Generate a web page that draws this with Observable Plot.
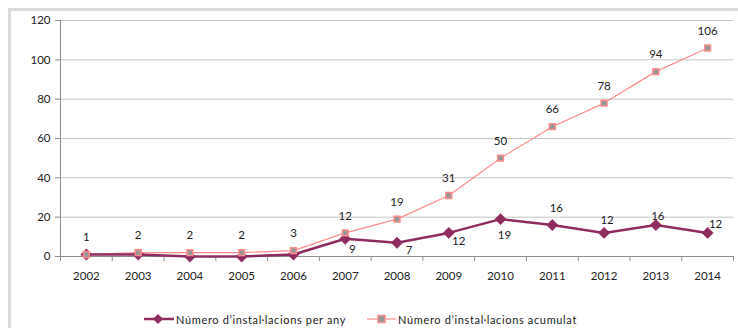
<!DOCTYPE html>
<html>
<head>
<meta charset="utf-8">
<script src="https://cdn.jsdelivr.net/npm/d3@7"></script>
<script src="https://cdn.jsdelivr.net/npm/@observablehq/plot@0.6"></script>
<style>
  html, body { margin: 0; padding: 0; background: #fff; }
  body { width: 738px; height: 328px; position: relative; overflow: hidden; font-family: Lato, "Open Sans", sans-serif; }
  #frame { position: absolute; left: 8px; top: 8px; width: 780px; height: 360px; border: 3px solid #dadada; box-sizing: border-box; }
  #chart { position: absolute; left: 0; top: 0; }
  #legend { position: absolute; top: 311px; left: 0; width: 738px; height: 16px; font-size: 11px; color: #222; letter-spacing: 0.65px; }
  .item { position: absolute; top: 0; display: flex; align-items: center; height: 16px; white-space: nowrap; }
  .item svg { margin-right: 2px; }
</style>
</head>
<body>
<div id="frame"></div>
<div id="chart"></div>
<div id="legend">
  <div class="item" style="left:144px">
    <svg width="30" height="16"><line x1="0" y1="8" x2="30" y2="8" stroke="#8e2c60" stroke-width="2.5"/><path d="M14,3 L19,8 L14,13 L9,8 Z" fill="#8e2c60"/></svg>
    <span>Número d’instal·lacions per any</span>
  </div>
  <div class="item" style="left:367px">
    <svg width="29" height="16"><line x1="0" y1="8" x2="29" y2="8" stroke="#ff8c8c" stroke-width="1.2"/><rect x="11" y="4.5" width="7" height="7" fill="#969696" stroke="#ff8c8c" stroke-width="1.5"/></svg>
    <span>Número d’instal·lacions acumulat</span>
  </div>
</div>
<script>
// Installations per year and running total, 2002–2014
const years = [2002, 2003, 2004, 2005, 2006, 2007, 2008, 2009, 2010, 2011, 2012, 2013, 2014];
const perYear = [1, 1, 0, 0, 1, 9, 7, 12, 19, 16, 12, 16, 12];
const cumulative = [1, 2, 2, 2, 3, 12, 19, 31, 50, 66, 78, 94, 106];
const yTicks = [0, 20, 40, 60, 80, 100, 120];

// Years whose yearly value carries a label, with where the label sits around its marker
const labelledYears = [2007, 2008, 2009, 2010, 2011, 2012, 2013, 2014];
const labelPlacement = [[7, 11], [12, 8], [10, 8], [4, 16], [4, -17], [3, -13], [2, -9], [8, -9]];

const annual = years.map((year, i) => ({year, value: perYear[i]}));
const total = years.map((year, i) => ({year, value: cumulative[i]}));
const bandEdges = years.map(y => y - 0.5).concat([years[years.length - 1] + 0.5]);

const purple = "#8e2c60";
const pink = "#ff8c8c";
const axisGray = "#8c8c8c";

const annualLabels = labelledYears.map((year, k) => {
  const i = years.indexOf(year);
  const [dx, dy] = labelPlacement[k];
  return Plot.text([annual[i]], {x: "year", y: "value", text: d => String(d.value), dx, dy, fill: "#222"});
});

const chart = Plot.plot({
  width: 738,
  height: 290,
  marginLeft: 60,
  marginRight: 5,
  marginTop: 20,
  marginBottom: 34,
  style: {fontFamily: "Lato, 'Open Sans', sans-serif", fontSize: "11.5px", color: "#222", background: "transparent"},
  x: {type: "linear", domain: [2001.5, 2014.5]},
  y: {domain: [0, 120]},
  marks: [
    Plot.gridY(yTicks.filter(t => t > 0), {stroke: "#c4c4c4", strokeOpacity: 1}),
    Plot.axisY(yTicks, {tickSize: 5, tickPadding: 5, stroke: axisGray, label: null, tickFormat: d => String(d)}),
    Plot.axisX(bandEdges, {tickSize: 5, tickFormat: () => "", stroke: axisGray, label: null}),
    Plot.axisX(years, {tickSize: 0, tickPadding: 15, tickFormat: d => String(d), label: null}),
    Plot.ruleX([2001.5], {stroke: axisGray}),
    Plot.ruleY([0], {stroke: axisGray}),
    Plot.line(total, {x: "year", y: "value", stroke: pink, strokeWidth: 1.2}),
    Plot.line(annual, {x: "year", y: "value", stroke: purple, strokeWidth: 2.5}),
    Plot.dot(annual, {x: "year", y: "value", symbol: "diamond2", r: 5.1, fill: purple, stroke: purple, strokeWidth: 0.5}),
    Plot.dot(total, {x: "year", y: "value", symbol: "square", r: 3.3, fill: "#969696", stroke: pink, strokeWidth: 1.5}),
    Plot.text(total, {x: "year", y: "value", text: d => String(d.value), dy: -17, fill: "#222"}),
    ...annualLabels
  ]
});
document.getElementById("chart").appendChild(chart);
</script>
</body>
</html>
